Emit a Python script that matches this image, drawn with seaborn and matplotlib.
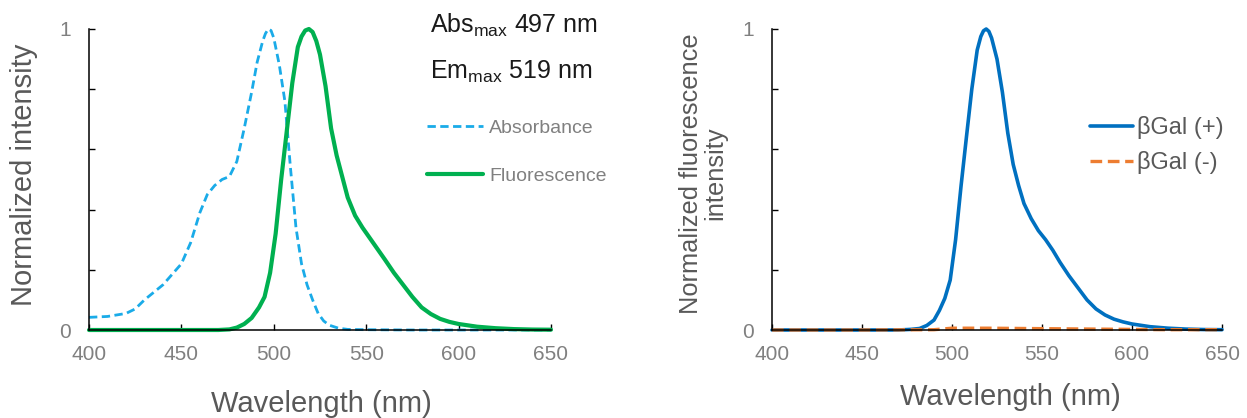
import matplotlib
matplotlib.use('Agg')
import matplotlib.pyplot as plt
import seaborn as sns
import numpy as np

# absorbance / fluorescence spectra (left panel)
abs_wl = [400, 410, 420, 425, 430, 435, 440, 445, 450, 455, 460, 464, 468, 472, 476,
          480, 484, 488, 491, 494, 495.5, 497, 498.5, 500, 503, 506, 509, 512, 515, 518,
          521, 524, 527, 530, 535, 540, 550, 575, 600, 625, 650]
abs_val = [0.042, 0.045, 0.055, 0.07, 0.10, 0.125, 0.15, 0.185, 0.22, 0.29, 0.39, 0.45,
           0.48, 0.50, 0.51, 0.56, 0.67, 0.79, 0.89, 0.96, 0.985, 1.0, 0.995, 0.97, 0.88,
           0.76, 0.54, 0.34, 0.22, 0.15, 0.10, 0.055, 0.03, 0.016, 0.006, 0.002, 0.001,
           0.0, 0.0, 0.0, 0.0]

fl_wl = [400, 450, 470, 476, 480, 484, 488, 492, 495, 498, 501, 504, 507, 510, 513, 515,
         517, 519, 521, 523, 525, 528, 531, 534, 537, 540, 544, 548, 552, 556, 560, 565,
         570, 575, 580, 585, 590, 595, 600, 610, 620, 630, 640, 650]
fl_val = [0, 0, 0, 0.002, 0.008, 0.02, 0.04, 0.075, 0.11, 0.19, 0.32, 0.50, 0.66, 0.82,
          0.94, 0.975, 0.995, 1.0, 0.99, 0.96, 0.915, 0.81, 0.67, 0.58, 0.51, 0.44, 0.38,
          0.34, 0.305, 0.27, 0.235, 0.19, 0.15, 0.11, 0.075, 0.053, 0.037, 0.027, 0.02,
          0.011, 0.006, 0.003, 0.0015, 0.001]

# βGal (+) / (-) fluorescence (right panel)
pos_wl = [400, 450, 470, 477, 482, 486, 490, 493, 496, 499, 502, 505, 508, 511, 514, 516,
          517.5, 519, 520.5, 522, 525, 528, 531, 534, 537, 540, 544, 548, 552, 556, 560,
          565, 570, 575, 580, 585, 590, 595, 600, 610, 620, 630, 640, 650]
pos_val = [0, 0, 0, 0.002, 0.005, 0.015, 0.033, 0.065, 0.105, 0.166, 0.30, 0.477, 0.64,
           0.80, 0.93, 0.975, 0.994, 1.0, 0.992, 0.97, 0.90, 0.79, 0.654, 0.55, 0.48, 0.42,
           0.37, 0.33, 0.30, 0.265, 0.225, 0.18, 0.14, 0.10, 0.07, 0.05, 0.036, 0.027,
           0.02, 0.011, 0.006, 0.003, 0.0015, 0.001]

neg_wl = [400, 450, 490, 500, 520, 540, 560, 580, 600, 620, 650]
neg_val = [0, 0, 0.001, 0.006, 0.006, 0.005, 0.004, 0.003, 0.002, 0.001, 0.001]

x_ticks = [400, 450, 500, 550, 600, 650]
y_ticks = [0, 0.2, 0.4, 0.6, 0.8, 1.0]

sns.set_style('ticks')
plt.rcParams['font.family'] = ['Liberation Sans', 'DejaVu Sans']
plt.rcParams['mathtext.default'] = 'regular'

fig = plt.figure(figsize=(12.47, 4.18), dpi=100)
ax1 = fig.add_axes([89 / 1247, 1 - 330 / 418, 462 / 1247, 301 / 418])
ax2 = fig.add_axes([772 / 1247, 1 - 330 / 418, 450 / 1247, 301 / 418])

sns.lineplot(x=abs_wl, y=abs_val, ax=ax1, color='#1AABE8', lw=2.0,
             linestyle=(0, (3, 1.6)), label='Absorbance', clip_on=False)
sns.lineplot(x=fl_wl, y=fl_val, ax=ax1, color='#00B050', lw=3.0,
             label='Fluorescence', clip_on=False)

sns.lineplot(x=pos_wl, y=pos_val, ax=ax2, color='#0070C0', lw=2.6,
             label='βGal (+)', clip_on=False)
sns.lineplot(x=neg_wl, y=neg_val, ax=ax2, color='#ED7D31', lw=2.4,
             linestyle=(0, (3.5, 1.7)), label='βGal (-)', clip_on=False)


def fmt(v, pos):
    if abs(v) < 1e-9:
        return '0'
    if abs(v - 1) < 1e-9:
        return '1'
    return ''


for ax in (ax1, ax2):
    ax.set_xlim(400, 650)
    ax.set_ylim(0, 1)
    ax.set_xticks(x_ticks)
    ax.set_yticks(y_ticks)
    ax.yaxis.set_major_formatter(plt.FuncFormatter(fmt))
    ax.tick_params(direction='in', length=4.5, width=1, color='black',
                   labelcolor='#808080', labelsize=15)
    ax.tick_params(axis='x', pad=11)
    ax.tick_params(axis='y', pad=13)
    for s in ('top', 'right'):
        ax.spines[s].set_visible(False)
    for s in ('left', 'bottom'):
        ax.spines[s].set_color('black')
        ax.spines[s].set_linewidth(1.1)
    ax.set_xlabel('Wavelength (nm)', fontsize=21, color='#595959')
    ax.xaxis.label.set_verticalalignment('center')

ax1.set_ylabel('Normalized intensity', fontsize=21, color='#595959')
ax2.set_ylabel('Normalized fluorescence\nintensity', fontsize=18.3, color='#595959',
               linespacing=1.0)
ax1.xaxis.set_label_coords(0.504, -0.2475)
ax2.xaxis.set_label_coords(0.529, -0.2226)
ax1.yaxis.set_label_coords(-0.1407, 0.515)
ax2.yaxis.set_label_coords(-0.153, 0.52)
ax1.yaxis.label.set_verticalalignment('center')
ax2.yaxis.label.set_verticalalignment('center')

fig.text(430 / 1247, 1 - 25 / 418, r'Abs$_{max}$ 497 nm', fontsize=18,
         color='#1a1a1a', ha='left', va='center')
fig.text(430 / 1247, 1 - 72 / 418, r'Em$_{max}$ 519 nm', fontsize=18,
         color='#1a1a1a', ha='left', va='center')

leg1 = ax1.legend(loc='center left', bbox_to_anchor=(427 / 1247, 1 - 152 / 418),
                  bbox_transform=fig.transFigure, frameon=False, fontsize=14,
                  handlelength=2.9, handletextpad=0.3, labelspacing=1.55,
                  borderpad=0, borderaxespad=0)
for t in leg1.get_texts():
    t.set_color('#808080')

leg2 = ax2.legend(loc='center left', bbox_to_anchor=(1090 / 1247, 1 - 145 / 418),
                  bbox_transform=fig.transFigure, frameon=False, fontsize=17,
                  handlelength=1.8, handletextpad=0.2, labelspacing=0.5,
                  borderpad=0, borderaxespad=0)
for t in leg2.get_texts():
    t.set_color('#595959')

fig.savefig('out.png', dpi=100)
